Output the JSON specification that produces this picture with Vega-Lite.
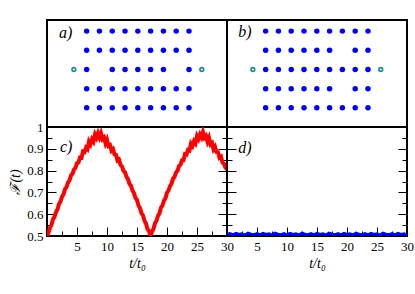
{
"$schema":"https://vega.github.io/schema/vega-lite/v6.json",
"background":"white",
"padding":{"left":7,"top":19,"right":7,"bottom":5},
"columns":2,"spacing":0,"bounds":"flush","align":"each",
"config":{"view":{"stroke":"black","strokeWidth":2},
 "axis":{"labelFont":"Liberation Serif","titleFont":"Liberation Serif","labelFontSize":13,"titleFontSize":14,"labelColor":"black","titleColor":"black","titleFontWeight":"normal","labelFlush":false,"labelOverlap":false}},
"datasets":{
"a":[
{"c":1,"r":4,"k":"dot"},{"c":2,"r":4,"k":"dot"},{"c":3,"r":4,"k":"dot"},{"c":4,"r":4,"k":"dot"},{"c":5,"r":4,"k":"dot"},{"c":6,"r":4,"k":"dot"},{"c":7,"r":4,"k":"dot"},{"c":8,"r":4,"k":"dot"},{"c":9,"r":4,"k":"dot"},
{"c":1,"r":3,"k":"dot"},{"c":2,"r":3,"k":"dot"},{"c":3,"r":3,"k":"dot"},{"c":4,"r":3,"k":"dot"},{"c":5,"r":3,"k":"dot"},{"c":6,"r":3,"k":"dot"},{"c":7,"r":3,"k":"dot"},{"c":8,"r":3,"k":"dot"},{"c":9,"r":3,"k":"dot"},
{"c":0,"r":2,"k":"site"},{"c":1,"r":2,"k":"dot"},{"c":3,"r":2,"k":"dot"},{"c":4,"r":2,"k":"dot"},{"c":5,"r":2,"k":"dot"},{"c":6,"r":2,"k":"dot"},{"c":7,"r":2,"k":"dot"},{"c":9,"r":2,"k":"dot"},{"c":10,"r":2,"k":"site"},
{"c":1,"r":1,"k":"dot"},{"c":2,"r":1,"k":"dot"},{"c":3,"r":1,"k":"dot"},{"c":4,"r":1,"k":"dot"},{"c":5,"r":1,"k":"dot"},{"c":6,"r":1,"k":"dot"},{"c":7,"r":1,"k":"dot"},{"c":8,"r":1,"k":"dot"},{"c":9,"r":1,"k":"dot"},
{"c":1,"r":0,"k":"dot"},{"c":2,"r":0,"k":"dot"},{"c":3,"r":0,"k":"dot"},{"c":4,"r":0,"k":"dot"},{"c":5,"r":0,"k":"dot"},{"c":6,"r":0,"k":"dot"},{"c":7,"r":0,"k":"dot"},{"c":8,"r":0,"k":"dot"},{"c":9,"r":0,"k":"dot"}
],
"b":[
{"c":1,"r":4,"k":"dot"},{"c":2,"r":4,"k":"dot"},{"c":3,"r":4,"k":"dot"},{"c":4,"r":4,"k":"dot"},{"c":5,"r":4,"k":"dot"},{"c":6,"r":4,"k":"dot"},{"c":7,"r":4,"k":"dot"},{"c":8,"r":4,"k":"dot"},{"c":9,"r":4,"k":"dot"},
{"c":1,"r":3,"k":"dot"},{"c":2,"r":3,"k":"dot"},{"c":3,"r":3,"k":"dot"},{"c":4,"r":3,"k":"dot"},{"c":5,"r":3,"k":"dot"},{"c":6,"r":3,"k":"dot"},{"c":8,"r":3,"k":"dot"},{"c":9,"r":3,"k":"dot"},
{"c":0,"r":2,"k":"site"},{"c":1,"r":2,"k":"dot"},{"c":2,"r":2,"k":"dot"},{"c":3,"r":2,"k":"dot"},{"c":4,"r":2,"k":"dot"},{"c":5,"r":2,"k":"dot"},{"c":6,"r":2,"k":"dot"},{"c":7,"r":2,"k":"dot"},{"c":8,"r":2,"k":"dot"},{"c":9,"r":2,"k":"dot"},{"c":10,"r":2,"k":"site"},
{"c":1,"r":1,"k":"dot"},{"c":2,"r":1,"k":"dot"},{"c":3,"r":1,"k":"dot"},{"c":4,"r":1,"k":"dot"},{"c":5,"r":1,"k":"dot"},{"c":6,"r":1,"k":"dot"},{"c":8,"r":1,"k":"dot"},{"c":9,"r":1,"k":"dot"},
{"c":1,"r":0,"k":"dot"},{"c":2,"r":0,"k":"dot"},{"c":3,"r":0,"k":"dot"},{"c":4,"r":0,"k":"dot"},{"c":5,"r":0,"k":"dot"},{"c":6,"r":0,"k":"dot"},{"c":7,"r":0,"k":"dot"},{"c":8,"r":0,"k":"dot"},{"c":9,"r":0,"k":"dot"}
],
"red":[
{"t":0,"F":0.501},{"t":0.25,"F":0.515},{"t":0.5,"F":0.538},{"t":0.75,"F":0.551},{"t":1,"F":0.577},{"t":1.25,"F":0.588},{"t":1.5,"F":0.610},{"t":1.75,"F":0.622},{"t":2,"F":0.647},{"t":2.25,"F":0.658},{"t":2.5,"F":0.680},{"t":2.75,"F":0.691},{"t":3,"F":0.715},{"t":3.25,"F":0.724},{"t":3.5,"F":0.745},{"t":3.75,"F":0.755},{"t":4,"F":0.778},{"t":4.25,"F":0.786},{"t":4.5,"F":0.805},{"t":4.75,"F":0.813},{"t":5,"F":0.834},{"t":5.25,"F":0.837},{"t":5.5,"F":0.860},{"t":5.75,"F":0.859},{"t":6,"F":0.888},{"t":6.25,"F":0.885},{"t":6.5,"F":0.905},{"t":6.75,"F":0.898},{"t":7,"F":0.933},{"t":7.25,"F":0.921},{"t":7.5,"F":0.944},{"t":7.75,"F":0.933},{"t":8,"F":0.965},{"t":8.25,"F":0.951},{"t":8.5,"F":0.971},{"t":8.75,"F":0.952},{"t":9,"F":0.971},{"t":9.25,"F":0.945},{"t":9.5,"F":0.952},{"t":9.75,"F":0.925},{"t":10,"F":0.941},{"t":10.25,"F":0.913},{"t":10.5,"F":0.917},{"t":10.75,"F":0.892},{"t":11,"F":0.899},{"t":11.25,"F":0.874},{"t":11.5,"F":0.872},{"t":11.75,"F":0.847},{"t":12,"F":0.851},{"t":12.25,"F":0.827},{"t":12.5,"F":0.819},{"t":12.75,"F":0.799},{"t":13,"F":0.793},{"t":13.25,"F":0.771},{"t":13.5,"F":0.761},{"t":13.75,"F":0.739},{"t":14,"F":0.731},{"t":14.25,"F":0.708},{"t":14.5,"F":0.697},{"t":14.75,"F":0.674},{"t":15,"F":0.665},{"t":15.25,"F":0.640},{"t":15.5,"F":0.628},{"t":15.75,"F":0.604},{"t":16,"F":0.595},{"t":16.25,"F":0.570},{"t":16.5,"F":0.557},{"t":16.75,"F":0.532},{"t":17,"F":0.522},{"t":17.25,"F":0.500},{"t":17.5,"F":0.520},{"t":17.75,"F":0.532},{"t":18,"F":0.559},{"t":18.25,"F":0.570},{"t":18.5,"F":0.593},{"t":18.75,"F":0.604},{"t":19,"F":0.630},{"t":19.25,"F":0.640},{"t":19.5,"F":0.663},{"t":19.75,"F":0.674},{"t":20,"F":0.699},{"t":20.25,"F":0.708},{"t":20.5,"F":0.729},{"t":20.75,"F":0.739},{"t":21,"F":0.763},{"t":21.25,"F":0.771},{"t":21.5,"F":0.791},{"t":21.75,"F":0.799},{"t":22,"F":0.821},{"t":22.25,"F":0.827},{"t":22.5,"F":0.847},{"t":22.75,"F":0.847},{"t":23,"F":0.876},{"t":23.25,"F":0.874},{"t":23.5,"F":0.895},{"t":23.75,"F":0.892},{"t":24,"F":0.923},{"t":24.25,"F":0.913},{"t":24.5,"F":0.935},{"t":24.75,"F":0.925},{"t":25,"F":0.958},{"t":25.25,"F":0.945},{"t":25.5,"F":0.965},{"t":25.75,"F":0.952},{"t":26,"F":0.977},{"t":26.25,"F":0.951},{"t":26.5,"F":0.959},{"t":26.75,"F":0.933},{"t":27,"F":0.950},{"t":27.25,"F":0.921},{"t":27.5,"F":0.927},{"t":27.75,"F":0.898},{"t":28,"F":0.909},{"t":28.25,"F":0.885},{"t":28.5,"F":0.884},{"t":28.75,"F":0.859},{"t":29,"F":0.864},{"t":29.25,"F":0.837},{"t":29.5,"F":0.832},{"t":29.75,"F":0.813},{"t":30,"F":0.807}
],
"blue":[
{"t":0,"F":0.508},{"t":0.5,"F":0.511},{"t":1,"F":0.505},{"t":1.5,"F":0.512},{"t":2,"F":0.507},{"t":2.5,"F":0.510},{"t":3,"F":0.504},{"t":3.5,"F":0.513},{"t":4,"F":0.508},{"t":4.5,"F":0.506},{"t":5,"F":0.511},{"t":5.5,"F":0.505},{"t":6,"F":0.512},{"t":6.5,"F":0.507},{"t":7,"F":0.510},{"t":7.5,"F":0.504},{"t":8,"F":0.513},{"t":8.5,"F":0.508},{"t":9,"F":0.506},{"t":9.5,"F":0.511},{"t":10,"F":0.505},{"t":10.5,"F":0.512},{"t":11,"F":0.507},{"t":11.5,"F":0.510},{"t":12,"F":0.504},{"t":12.5,"F":0.513},{"t":13,"F":0.508},{"t":13.5,"F":0.506},{"t":14,"F":0.511},{"t":14.5,"F":0.505},{"t":15,"F":0.512},{"t":15.5,"F":0.507},{"t":16,"F":0.510},{"t":16.5,"F":0.504},{"t":17,"F":0.513},{"t":17.5,"F":0.508},{"t":18,"F":0.506},{"t":18.5,"F":0.511},{"t":19,"F":0.505},{"t":19.5,"F":0.512},{"t":20,"F":0.507},{"t":20.5,"F":0.510},{"t":21,"F":0.504},{"t":21.5,"F":0.513},{"t":22,"F":0.508},{"t":22.5,"F":0.506},{"t":23,"F":0.511},{"t":23.5,"F":0.505},{"t":24,"F":0.512},{"t":24.5,"F":0.507},{"t":25,"F":0.510},{"t":25.5,"F":0.504},{"t":26,"F":0.513},{"t":26.5,"F":0.508},{"t":27,"F":0.506},{"t":27.5,"F":0.511},{"t":28,"F":0.505},{"t":28.5,"F":0.512},{"t":29,"F":0.507},{"t":29.5,"F":0.510},{"t":30,"F":0.506}
]
},
"concat":[
{"width":180,"height":107,
 "layer":[
  {"data":{"name":"a"},"transform":[{"filter":"datum.k==='dot'"}],"mark":{"type":"point","filled":true,"shape":"circle","size":30,"color":"#0000f0","opacity":1},
   "encoding":{"x":{"field":"c","type":"quantitative","scale":{"domain":[-2.1,11.97],"nice":false,"zero":false},"axis":null},"y":{"field":"r","type":"quantitative","scale":{"domain":[-1,4.58],"nice":false,"zero":false},"axis":null}}},
  {"data":{"name":"a"},"transform":[{"filter":"datum.k==='site'"}],"mark":{"type":"point","filled":false,"shape":"circle","size":14,"color":"#138f8f","strokeWidth":1.6,"opacity":1},
   "encoding":{"x":{"field":"c","type":"quantitative","axis":null},"y":{"field":"r","type":"quantitative","axis":null}}},
  {"data":{"values":[{"lab":"a)","x":-1.16,"y":3.9}]},"mark":{"type":"text","align":"left","baseline":"middle","font":"Liberation Serif","fontStyle":"italic","fontSize":16,"color":"black"},
   "encoding":{"x":{"field":"x","type":"quantitative","axis":null},"y":{"field":"y","type":"quantitative","axis":null},"text":{"field":"lab"}}}
 ]},
{"width":180,"height":107,
 "layer":[
  {"data":{"name":"b"},"transform":[{"filter":"datum.k==='dot'"}],"mark":{"type":"point","filled":true,"shape":"circle","size":30,"color":"#0000f0","opacity":1},
   "encoding":{"x":{"field":"c","type":"quantitative","scale":{"domain":[-2.02,12.05],"nice":false,"zero":false},"axis":null},"y":{"field":"r","type":"quantitative","scale":{"domain":[-1,4.58],"nice":false,"zero":false},"axis":null}}},
  {"data":{"name":"b"},"transform":[{"filter":"datum.k==='site'"}],"mark":{"type":"point","filled":false,"shape":"circle","size":14,"color":"#138f8f","strokeWidth":1.6,"opacity":1},
   "encoding":{"x":{"field":"c","type":"quantitative","axis":null},"y":{"field":"r","type":"quantitative","axis":null}}},
  {"data":{"values":[{"lab":"b)","x":-1.14,"y":3.95}]},"mark":{"type":"text","align":"left","baseline":"middle","font":"Liberation Serif","fontStyle":"italic","fontSize":16,"color":"black"},
   "encoding":{"x":{"field":"x","type":"quantitative","axis":null},"y":{"field":"y","type":"quantitative","axis":null},"text":{"field":"lab"}}}
 ]},
{"width":180,"height":109,
 "layer":[
  {"data":{"name":"red"},"mark":{"type":"line","color":"#ff0000","strokeWidth":4,"clip":true},
   "encoding":{
    "x":{"field":"t","type":"quantitative","scale":{"domain":[0,30],"nice":false,"zero":false},
      "axis":{"orient":"bottom","values":[5,10,15,20,25,30],"format":"d","ticks":false,"domain":false,"grid":false,"labelPadding":4,"title":"t/t₀","titleFontStyle":"italic","titlePadding":3}},
    "y":{"field":"F","type":"quantitative","scale":{"domain":[0.5,1],"nice":false,"zero":false},
      "axis":{"orient":"left","values":[0.5,0.6,0.7,0.8,0.9,1],"format":"~g","ticks":false,"domain":false,"grid":false,"labelPadding":4,"title":"ℱ(t)","titleFontStyle":"italic","titlePadding":4}}}},
  {"data":{"name":"red"},"mark":{"type":"line","opacity":0},
   "encoding":{"x":{"field":"t","type":"quantitative","axis":{"orient":"bottom","values":[5,10,15,20,25],"labels":false,"title":null,"domain":false,"ticks":false,"grid":true,"gridColor":"black","gridWidth":1,"gridOpacity":1,"gridDash":[0,100,9,1000]}},
    "y":{"field":"F","type":"quantitative","axis":{"orient":"left","values":[0.6,0.7,0.8,0.9],"labels":false,"title":null,"domain":false,"ticks":false,"grid":true,"gridColor":"black","gridWidth":1,"gridOpacity":1,"gridDash":[9,1000]}}}},
  {"data":{"name":"red"},"mark":{"type":"line","opacity":0},
   "encoding":{"x":{"field":"t","type":"quantitative","axis":{"orient":"bottom","values":[2.5,7.5,12.5,17.5,22.5,27.5],"labels":false,"title":null,"domain":false,"ticks":false,"grid":true,"gridColor":"black","gridWidth":1,"gridOpacity":1,"gridDash":[0,104,5,1000]}},
    "y":{"field":"F","type":"quantitative","axis":{"orient":"left","values":[0.55,0.65,0.75,0.85,0.95],"labels":false,"title":null,"domain":false,"ticks":false,"grid":true,"gridColor":"black","gridWidth":1,"gridOpacity":1,"gridDash":[5,1000]}}}},
  {"data":{"name":"red"},"mark":{"type":"line","opacity":0},
   "encoding":{"x":{"field":"t","type":"quantitative","axis":null},
    "y":{"field":"F","type":"quantitative","axis":{"orient":"right","values":[0.6,0.7,0.8,0.9],"labels":false,"title":null,"domain":false,"ticks":false,"grid":true,"gridColor":"black","gridWidth":1,"gridOpacity":1,"gridDash":[9,1000]}}}},
  {"data":{"name":"red"},"mark":{"type":"line","opacity":0},
   "encoding":{"x":{"field":"t","type":"quantitative","axis":null},
    "y":{"field":"F","type":"quantitative","axis":{"orient":"right","values":[0.55,0.65,0.75,0.85,0.95],"labels":false,"title":null,"domain":false,"ticks":false,"grid":true,"gridColor":"black","gridWidth":1,"gridOpacity":1,"gridDash":[5,1000]}}}},
  {"data":{"values":[{"lab":"c)","x":2.17,"y":0.908}]},"mark":{"type":"text","align":"left","baseline":"middle","font":"Liberation Serif","fontStyle":"italic","fontSize":16,"color":"black"},
   "encoding":{"x":{"field":"x","type":"quantitative","axis":null},"y":{"field":"y","type":"quantitative","axis":null},"text":{"field":"lab"}}}
 ],
 "resolve":{"axis":{"x":"independent","y":"independent"}}},
{"width":180,"height":109,
 "layer":[
  {"data":{"name":"blue"},"mark":{"type":"line","color":"#0000ff","strokeWidth":3,"clip":true},
   "encoding":{
    "x":{"field":"t","type":"quantitative","scale":{"domain":[0,30],"nice":false,"zero":false},
      "axis":{"orient":"bottom","values":[5,10,15,20,25,30],"format":"d","ticks":false,"domain":false,"grid":false,"labelPadding":4,"title":"t/t₀","titleFontStyle":"italic","titlePadding":3}},
    "y":{"field":"F","type":"quantitative","scale":{"domain":[0.5,1],"nice":false,"zero":false},"axis":null}}},
  {"data":{"name":"blue"},"mark":{"type":"line","opacity":0},
   "encoding":{"x":{"field":"t","type":"quantitative","axis":{"orient":"bottom","values":[5,10,15,20,25],"labels":false,"title":null,"domain":false,"ticks":false,"grid":true,"gridColor":"black","gridWidth":1,"gridOpacity":1,"gridDash":[0,100,9,1000]}},
    "y":{"field":"F","type":"quantitative","axis":{"orient":"left","values":[0.6,0.7,0.8,0.9],"labels":false,"title":null,"domain":false,"ticks":false,"grid":true,"gridColor":"black","gridWidth":1,"gridOpacity":1,"gridDash":[9,1000]}}}},
  {"data":{"name":"blue"},"mark":{"type":"line","opacity":0},
   "encoding":{"x":{"field":"t","type":"quantitative","axis":{"orient":"bottom","values":[2.5,7.5,12.5,17.5,22.5,27.5],"labels":false,"title":null,"domain":false,"ticks":false,"grid":true,"gridColor":"black","gridWidth":1,"gridOpacity":1,"gridDash":[0,104,5,1000]}},
    "y":{"field":"F","type":"quantitative","axis":{"orient":"left","values":[0.55,0.65,0.75,0.85,0.95],"labels":false,"title":null,"domain":false,"ticks":false,"grid":true,"gridColor":"black","gridWidth":1,"gridOpacity":1,"gridDash":[5,1000]}}}},
  {"data":{"name":"blue"},"mark":{"type":"line","opacity":0},
   "encoding":{"x":{"field":"t","type":"quantitative","axis":null},
    "y":{"field":"F","type":"quantitative","axis":{"orient":"right","values":[0.6,0.7,0.8,0.9],"labels":false,"title":null,"domain":false,"ticks":false,"grid":true,"gridColor":"black","gridWidth":1,"gridOpacity":1,"gridDash":[9,1000]}}}},
  {"data":{"name":"blue"},"mark":{"type":"line","opacity":0},
   "encoding":{"x":{"field":"t","type":"quantitative","axis":null},
    "y":{"field":"F","type":"quantitative","axis":{"orient":"right","values":[0.55,0.65,0.75,0.85,0.95],"labels":false,"title":null,"domain":false,"ticks":false,"grid":true,"gridColor":"black","gridWidth":1,"gridOpacity":1,"gridDash":[5,1000]}}}},
  {"data":{"values":[{"lab":"d)","x":1.88,"y":0.904}]},"mark":{"type":"text","align":"left","baseline":"middle","font":"Liberation Serif","fontStyle":"italic","fontSize":16,"color":"black"},
   "encoding":{"x":{"field":"x","type":"quantitative","axis":null},"y":{"field":"y","type":"quantitative","axis":null},"text":{"field":"lab"}}}
 ],
 "resolve":{"axis":{"x":"independent","y":"independent"}}}
]
}
